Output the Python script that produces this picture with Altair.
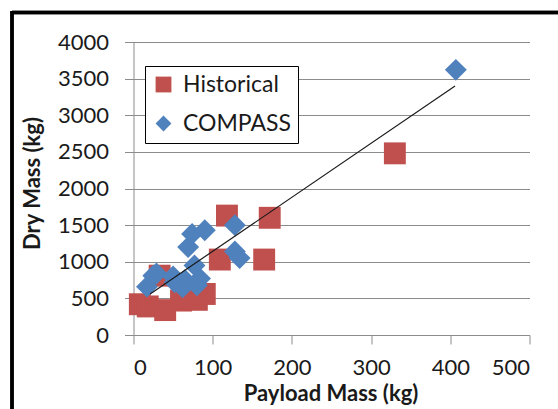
import altair as alt
import pandas as pd

hist_x = [8, 18, 40, 33, 60, 72, 80, 90, 109, 118, 165, 172, 330]
hist_y = [420, 390, 340, 810, 470, 500, 480, 560, 1030, 1630, 1030, 1600, 2480]

comp_x = [17, 25, 29, 50, 52, 62, 65, 80, 84, 77, 69, 74, 90, 128, 128, 134, 407]
comp_y = [660, 810, 840, 800, 720, 650, 750, 680, 770, 950, 1200, 1380, 1430, 1500, 1140, 1050, 3620]

trend_x = [21, 406]
trend_y = [560, 3400]

x_ticks = [0, 100, 200, 300, 400, 500]
y_ticks = [0, 500, 1000, 1500, 2000, 2500, 3000, 3500, 4000]

series = ["Historical", "COMPASS"]
colors = ["#C0504D", "#4F81BD"]
shapes = ["square", "diamond"]

df = pd.DataFrame({
    "x": hist_x + comp_x,
    "y": hist_y + comp_y,
    "s": ["Historical"] * len(hist_x) + ["COMPASS"] * len(comp_x),
    "o": [0] * len(hist_x) + [1] * len(comp_x),
})
tdf = pd.DataFrame({"x": trend_x, "y": trend_y})

FONT = "Lato"
W, H = 396, 293
PL, PT = 133.5, 42

xs = alt.Scale(domain=[0, 500], nice=False, zero=False)
ys = alt.Scale(domain=[0, 4000], nice=False)

x_axis = alt.Axis(
    values=x_ticks, grid=False, title="Payload Mass (kg)",
    format="d", labelOverlap=False,
    domainColor="#8c8c8c", tickColor="#8c8c8c", tickSize=9,
    labelFont=FONT, labelFontSize=22, labelColor="#1a1a1a", labelPadding=13,
    titleFont=FONT, titleFontSize=22, titleFontWeight="bold", titleColor="#1a1a1a",
    titleX=197, titleY=58, titleBaseline="middle")
y_axis = alt.Axis(
    values=y_ticks, grid=True,
    format="d", labelOverlap=False,
    gridColor="#8c8c8c", gridWidth=1.2,
    domainColor="#8c8c8c", tickColor="#8c8c8c", tickSize=9,
    labelFont=FONT, labelFontSize=22, labelColor="#1a1a1a", labelPadding=16,
    title="Dry Mass (kg)",
    titleFont=FONT, titleFontSize=22, titleFontWeight="bold", titleColor="#1a1a1a",
    titleX=-101, titleY=141, titleBaseline="middle")

points = alt.Chart(df).mark_point(filled=True, opacity=1, size=480).encode(
    x=alt.X("x:Q", scale=xs, axis=x_axis),
    y=alt.Y("y:Q", scale=ys, axis=y_axis),
    color=alt.Color("s:N", scale=alt.Scale(domain=series, range=colors), legend=alt.Legend(
        title=None, orient="none", legendX=11.5, legendY=24,
        strokeColor="#000000", fillColor="#ffffff", padding=7,
        labelFont=FONT, labelFontSize=23, labelColor="#1a1a1a", labelOffset=8,
        symbolSize=250, symbolStrokeWidth=0, rowPadding=15)),
    shape=alt.Shape("s:N", scale=alt.Scale(domain=series, range=shapes)),
    order=alt.Order("o:Q"),
)

trend = alt.Chart(tdf).mark_line(color="#1a1a1a", strokeWidth=1.2).encode(
    x=alt.X("x:Q", scale=xs, axis=x_axis), y=alt.Y("y:Q", scale=ys, axis=y_axis)
)

border_left = alt.Chart(tdf).mark_rule(color="#000000", strokeWidth=3.5).encode(
    x=alt.value(12 - PL), y=alt.value(11 - PT), y2=alt.value(409 - PT + 5)
)
border_top = alt.Chart(tdf).mark_rule(color="#000000", strokeWidth=3.5).encode(
    x=alt.value(12 - PL), x2=alt.value(558 - PL + 5), y=alt.value(12.5 - PT)
)

chart = alt.layer(points, trend, border_left, border_top).properties(
    width=W, height=H,
    autosize=alt.AutoSizeParams(type="none"),
    padding={"left": PL, "top": PT, "right": 558 - PL - W, "bottom": 409 - PT - H},
    background="#ffffff",
).configure_view(stroke=None)

chart.save("out.html", embed_options={"renderer": "svg", "actions": False})
